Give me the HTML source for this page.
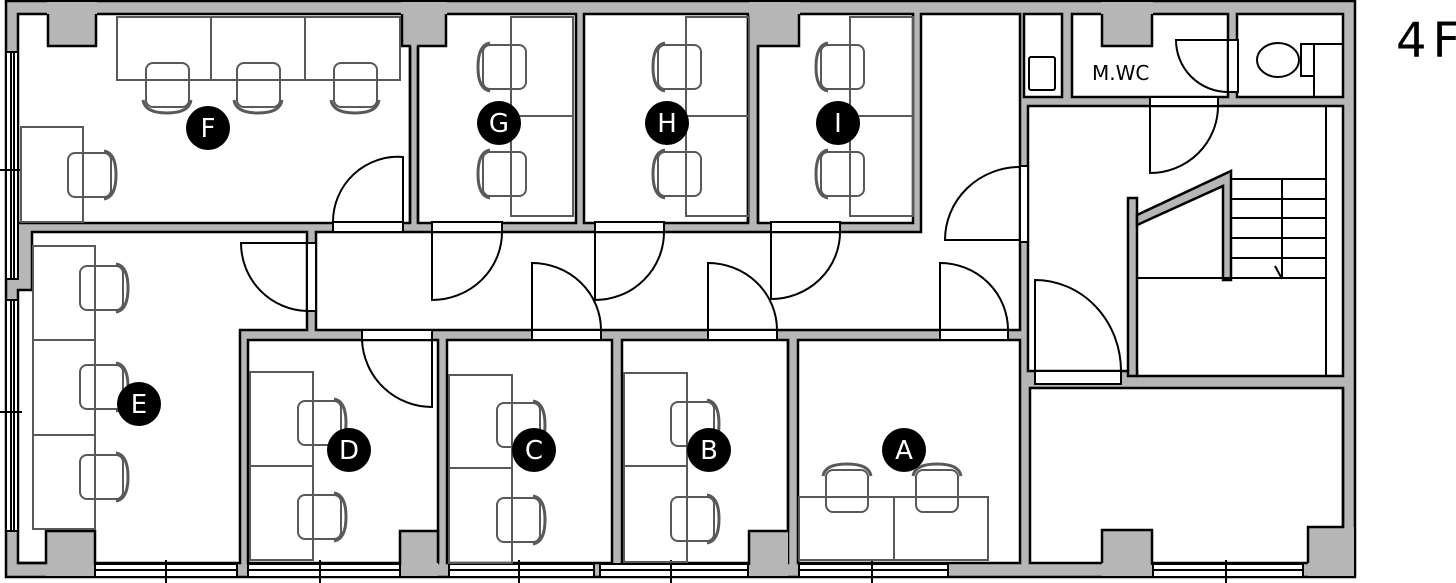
<!DOCTYPE html>
<html><head><meta charset="utf-8"><style>
html,body{margin:0;padding:0;background:#fff;width:1456px;height:583px;overflow:hidden}
svg{display:block}
</style></head><body>
<svg width="1456" height="583" viewBox="0 0 1456 583" xmlns="http://www.w3.org/2000/svg">
<g stroke="#000" stroke-width="2.5" stroke-linejoin="miter">
<rect x="6" y="1" width="1349" height="576" fill="#b5b6b5"/>
<g fill="#fff">
<rect x="18" y="14" width="392" height="209"/>
<rect x="418" y="14" width="158" height="209"/>
<rect x="584" y="14" width="164" height="209"/>
<rect x="758" y="14" width="155" height="209"/>
<polygon points="316,232 921,232 921,14 1020,14 1020,330 316,330"/>
<polygon points="32,232 307,232 307,330 240,330 240,563 18,563 18,290 32,290"/>
<rect x="248" y="340" width="190" height="223"/>
<rect x="447" y="340" width="165" height="223"/>
<rect x="622" y="340" width="166" height="223"/>
<rect x="798" y="340" width="222" height="223"/>
<rect x="1030" y="388" width="313" height="175"/>
<rect x="1024" y="14" width="38" height="83"/>
<rect x="1072" y="14" width="156" height="83"/>
<rect x="1237" y="14" width="106" height="83"/>
<polygon points="1028,106 1343,106 1343,376 1137,376 1137,371 1028,371"/>
</g>
<g fill="#b5b6b5">
<rect x="1128" y="198" width="9" height="178"/>
<polygon points="1137,215 1231,171 1231,280 1223,280 1223,186 1137,225"/>
</g>
</g>
<!-- pillars merged with outer wall -->
<g fill="#b5b6b5" stroke="none">
<rect x="47" y="2" width="50" height="44"/>
<rect x="401" y="2" width="46" height="44"/>
<rect x="749" y="2" width="51" height="44"/>
<rect x="1101" y="2" width="52" height="44"/>
<rect x="46" y="531" width="50" height="45"/>
<rect x="400" y="531" width="38" height="45"/>
<rect x="749" y="531" width="39" height="45"/>
<rect x="1102" y="530" width="50" height="46"/>
<rect x="1308" y="527" width="46" height="49"/>
</g>
<g fill="none" stroke="#000" stroke-width="2.5">
<polyline points="48,14 48,46 96,46 96,14"/>
<polyline points="402,14 402,46 411,46"/>
<line x1="410" y1="46" x2="410" y2="223"/>
<polyline points="417,46 446,46 446,14"/>
<line x1="418" y1="46" x2="418" y2="223"/>
<polyline points="758,223 758,46 799,46 799,14"/>
<line x1="748" y1="14" x2="748" y2="223"/>
<polyline points="1102,14 1102,46 1152,46 1152,14"/>
<polyline points="18,563 46,563 46,531 95,531 95,565"/>
<polyline points="400,565 400,531 438,531 438,563"/>
<polyline points="749,565 749,531 788,531 788,340"/>
<polyline points="1102,563 1102,530 1152,530 1152,565"/>
<polyline points="1308,563 1308,527 1343,527 1343,388"/>
</g>
<!-- windows -->
<g stroke="#000" stroke-width="2" fill="#fff">
<rect x="6" y="52" width="12" height="227"/>
<rect x="6" y="300" width="12" height="231" />
<line x1="11" y1="52" x2="11" y2="279"/><line x1="14" y1="52" x2="14" y2="279"/>
<line x1="11" y1="300" x2="11" y2="531"/><line x1="14" y1="300" x2="14" y2="531"/>
<line x1="0" y1="170" x2="22" y2="170"/><line x1="0" y1="412" x2="22" y2="412"/>
<rect x="95" y="564" width="142" height="13"/><line x1="95" y1="570" x2="237" y2="570"/><line x1="166" y1="560" x2="166" y2="583"/>
<rect x="248" y="564" width="152" height="13"/><line x1="248" y1="570" x2="400" y2="570"/><line x1="320" y1="560" x2="320" y2="583"/>
<rect x="449" y="564" width="145" height="13"/><line x1="449" y1="570" x2="594" y2="570"/><line x1="519" y1="560" x2="519" y2="583"/>
<rect x="600" y="564" width="148" height="13"/><line x1="600" y1="570" x2="748" y2="570"/><line x1="671" y1="560" x2="671" y2="583"/>
<rect x="799" y="564" width="149" height="13"/><line x1="799" y1="570" x2="948" y2="570"/><line x1="872" y1="560" x2="872" y2="583"/>
<rect x="1153" y="564" width="150" height="13"/><line x1="1153" y1="570" x2="1303" y2="570"/><line x1="1226" y1="560" x2="1226" y2="583"/>
</g>
<!-- door openings -->
<g fill="#fff" stroke="#000" stroke-width="2">
<rect x="333" y="222" width="70" height="10"/>
<rect x="307" y="243" width="9" height="68"/>
<rect x="432" y="222" width="70" height="10"/>
<rect x="595" y="222" width="69" height="10"/>
<rect x="771" y="222" width="69" height="10"/>
<rect x="362" y="330" width="70" height="10"/>
<rect x="532" y="330" width="69" height="10"/>
<rect x="708" y="330" width="69" height="10"/>
<rect x="940" y="330" width="68" height="10"/>
<rect x="1020" y="166" width="8" height="76"/>
<rect x="1150" y="97" width="68" height="9"/>
<rect x="1228" y="40" width="10" height="52"/>
<rect x="1035" y="371" width="86" height="13"/>
</g>
<g fill="none" stroke="#000" stroke-width="2">
<path d="M403,222 V157 A65,65 0 0 0 333,222"/>
<path d="M316,243 H241 A68,68 0 0 0 307,311"/>
<path d="M432,232 V300 A70,68 0 0 0 502,232"/>
<path d="M595,232 V300 A69,68 0 0 0 664,232"/>
<path d="M771,232 V299 A69,67 0 0 0 840,232"/>
<path d="M432,330 V407 A70,70 0 0 1 362,340"/>
<path d="M532,330 V263 A69,67 0 0 1 601,330"/>
<path d="M708,330 V263 A69,67 0 0 1 777,330"/>
<path d="M940,330 V263 A68,67 0 0 1 1008,330"/>
<path d="M1020,240 H945 A75,73 0 0 1 1020,167"/>
<path d="M1150,106 V173 A68,67 0 0 0 1218,106"/>
<path d="M1228,40 H1176 A52,52 0 0 0 1228,92"/>
<path d="M1035,371 V280 A86,91 0 0 1 1121,371"/>
</g>
<g stroke="#000" stroke-width="2" fill="none">
<line x1="1326" y1="106" x2="1326" y2="376"/>
<line x1="1231" y1="179" x2="1326" y2="179"/>
<line x1="1231" y1="199" x2="1326" y2="199"/>
<line x1="1231" y1="218" x2="1326" y2="218"/>
<line x1="1231" y1="238" x2="1326" y2="238"/>
<line x1="1231" y1="258" x2="1326" y2="258"/>
<line x1="1137" y1="278" x2="1326" y2="278"/>
<line x1="1282" y1="179" x2="1282" y2="279"/>
<line x1="1275" y1="266" x2="1282" y2="279"/>
<rect x="1029" y="57" width="26" height="33" rx="2"/>
<ellipse cx="1278" cy="60" rx="21" ry="17"/>
<rect x="1301" y="44" width="13" height="32"/>
<line x1="1314" y1="44" x2="1314" y2="97"/>
<line x1="1314" y1="44" x2="1343" y2="44"/>
</g>
<g stroke="#595959" stroke-width="2" fill="none">
<rect x="117" y="17" width="283" height="63"/><line x1="211" y1="17" x2="211" y2="80"/><line x1="305" y1="17" x2="305" y2="80"/>
<rect x="21" y="127" width="62" height="95"/>
<rect x="33" y="246" width="62" height="283"/><line x1="33" y1="340" x2="95" y2="340"/><line x1="33" y1="435" x2="95" y2="435"/>
<rect x="250" y="372" width="63" height="188"/><line x1="250" y1="466" x2="313" y2="466"/>
<rect x="449" y="375" width="63" height="188"/><line x1="449" y1="468" x2="512" y2="468"/>
<rect x="624" y="373" width="63" height="189"/><line x1="624" y1="466" x2="687" y2="466"/>
<rect x="799" y="497" width="189" height="63"/><line x1="894" y1="497" x2="894" y2="560"/>
<rect x="511" y="17" width="62" height="199"/><line x1="511" y1="116" x2="573" y2="116"/>
<rect x="686" y="17" width="63" height="199"/><line x1="686" y1="116" x2="749" y2="116"/>
<rect x="850" y="17" width="63" height="199"/><line x1="850" y1="116" x2="913" y2="116"/>
</g>
<g stroke="#595959" stroke-width="2" fill="none">
<g id="cd"><rect x="146" y="63" width="43" height="44" rx="7"/><path d="M143,100 Q145,113 167,113 Q189,113 191,100" stroke-width="3"/></g>
<use href="#cd" x="91"/><use href="#cd" x="188"/>
<g id="cr"><rect x="68" y="153" width="43" height="44" rx="7"/><path d="M104,151 Q116,153 116,175 Q116,197 104,199" stroke-width="3"/></g>
<use href="#cr" x="12" y="113"/><use href="#cr" x="12" y="212"/><use href="#cr" x="12" y="302"/>
<use href="#cr" x="230" y="248"/><use href="#cr" x="230" y="342"/>
<use href="#cr" x="429" y="250"/><use href="#cr" x="429" y="345"/>
<use href="#cr" x="603" y="249"/><use href="#cr" x="603" y="344"/>
<g id="cl"><rect x="483" y="45" width="43" height="44" rx="7"/><path d="M490,43 Q478,45 478,67 Q478,89 490,91" stroke-width="3"/></g>
<use href="#cl" y="107"/>
<use href="#cl" x="175"/><use href="#cl" x="175" y="107"/>
<use href="#cl" x="338"/><use href="#cl" x="338" y="107"/>
<g id="cu"><rect x="826" y="470" width="42" height="42" rx="7"/><path d="M823,476 Q825,464 847,464 Q869,464 871,476" stroke-width="3"/></g>
<use href="#cu" x="90"/>
</g>
<g fill="#000">
<circle cx="208" cy="128" r="22"/><circle cx="499" cy="123" r="22"/><circle cx="667" cy="123" r="22"/><circle cx="838" cy="123" r="22"/>
<circle cx="139" cy="404" r="22"/><circle cx="349" cy="450" r="22"/><circle cx="534" cy="450" r="22"/><circle cx="709" cy="450" r="22"/><circle cx="904" cy="450" r="22"/>
</g>
<g fill="#fff" font-family="'DejaVu Sans','Liberation Sans',sans-serif" font-size="26" text-anchor="middle">
<text x="208" y="137">F</text><text x="499" y="132">G</text><text x="667" y="132">H</text><text x="838" y="132">I</text>
<text x="139" y="413">E</text><text x="349" y="459">D</text><text x="534" y="459">C</text><text x="709" y="459">B</text><text x="904" y="459">A</text>
</g>
<text x="1092" y="80" font-family="'DejaVu Sans','Liberation Sans',sans-serif" font-size="20" fill="#000">M.WC</text>
<text x="1396" y="57" font-family="'DejaVu Sans','Liberation Sans',sans-serif" font-size="48" fill="#000" letter-spacing="6">4F</text>
</svg>
</body></html>
